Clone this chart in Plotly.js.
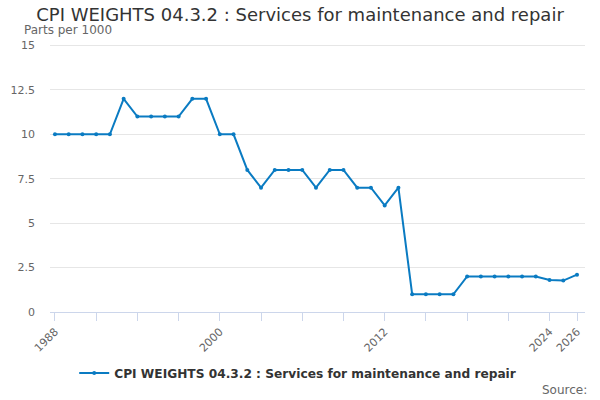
<!DOCTYPE html>
<html>
<head>
<meta charset="utf-8">
<script src="https://cdn.plot.ly/plotly-3.0.1.min.js"></script>
<style>
  html, body { margin: 0; padding: 0; background: #fff; }
  #chart { width: 600px; height: 400px; }
</style>
</head>
<body>
<div id="chart"></div>
<script>
const years = [1988, 1989, 1990, 1991, 1992, 1993, 1994, 1995, 1996, 1997,
               1998, 1999, 2000, 2001, 2002, 2003, 2004, 2005, 2006, 2007,
               2008, 2009, 2010, 2011, 2012, 2013, 2014, 2015, 2016, 2017,
               2018, 2019, 2020, 2021, 2022, 2023, 2024, 2025, 2026];
const weights = [10, 10, 10, 10, 10, 12, 11, 11, 11, 11,
                 12, 12, 10, 10, 8, 7, 8, 8, 8, 7,
                 8, 8, 7, 7, 6, 7, 1, 1, 1, 1,
                 2, 2, 2, 2, 2, 2, 1.8, 1.77, 2.1];
const tickYears = [1988, 1991, 1994, 1997, 2000, 2003, 2006, 2009, 2012, 2015, 2018, 2021, 2024, 2026];
const tickLabels = ['1988', '', '', '', '2000', '', '', '', '2012', '', '', '', '2024', '2026'];
const yTicks = [0, 2.5, 5, 7.5, 10, 12.5, 15];
const yLabels = ['0', '2.5', '5', '7.5', '10', '12.5', '15'];

const seriesName = 'CPI WEIGHTS 04.3.2 : Services for maintenance and repair';
const FONT = 'DejaVu Sans, sans-serif';

const traces = [{
    x: years, y: weights,
    type: 'scatter', mode: 'lines+markers',
    name: seriesName,
    line: { color: '#0a7bc2', width: 2 },
    marker: { color: '#0a7bc2', size: 4 }
}];

const layout = {
    width: 600, height: 400,
    margin: { l: 50, r: 15, t: 42, b: 88, autoexpand: false },
    font: { family: FONT, color: '#666' },
    title: {
        text: 'CPI WEIGHTS 04.3.2 : Services for maintenance and repair',
        font: { family: FONT, size: 18, color: '#333' },
        x: 0.5, xanchor: 'center', y: 0.98, yanchor: 'top'
    },
    xaxis: {
        range: [1987.64, 2026.58],
        tickmode: 'array', tickvals: tickYears, ticktext: tickLabels,
        tickangle: -45, ticks: 'outside', ticklen: 8, tickcolor: '#ccd6eb',
        showgrid: false, zeroline: false,
        showline: true, linecolor: '#ccd6eb', linewidth: 1,
        tickfont: { family: FONT, size: 11, color: '#666' }
    },
    yaxis: {
        range: [0, 15.2],
        tickmode: 'array', tickvals: yTicks, ticktext: yLabels,
        gridcolor: '#e6e6e6', gridwidth: 1, zeroline: false,
        ticks: '', ticklabelstandoff: 14,
        tickfont: { family: FONT, size: 11, color: '#666' }
    },
    showlegend: true,
    legend: {
        orientation: 'h', x: 0.463, xanchor: 'center', y: -0.226, yanchor: 'middle',
        itemwidth: 30,
        font: { family: FONT, size: 12.2, color: '#333', weight: 'bold' }
    },
    annotations: [
        {
            text: 'Parts per 1000', xref: 'paper', yref: 'paper',
            x: -0.052, y: 1.0, xanchor: 'left', yanchor: 'bottom', yshift: 3,
            showarrow: false, font: { family: FONT, size: 12, color: '#666' }
        },
        {
            text: 'Source:', xref: 'paper', yref: 'paper',
            x: 1.0, y: -0.289, xanchor: 'right', yanchor: 'middle', xshift: 4,
            showarrow: false, font: { family: FONT, size: 12, color: '#666' }
        }
    ],
    plot_bgcolor: 'white', paper_bgcolor: 'white'
};

Plotly.newPlot('chart', traces, layout, { displayModeBar: false, responsive: false });
</script>
</body>
</html>
